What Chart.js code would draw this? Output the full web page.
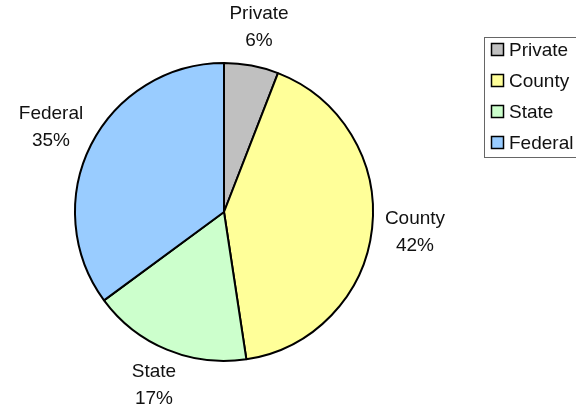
<!DOCTYPE html>
<html><head><meta charset="utf-8">
<script src="https://cdn.jsdelivr.net/npm/chart.js@4"></script>
<style>html,body{margin:0;padding:0;background:#fff}#wrap{width:576px;height:409px}</style>
</head><body><div id="wrap"><canvas id="c" width="576" height="409"></canvas></div>
<script>
const categories = ["Private", "County", "State", "Federal"];
const values = [5.9, 41.7, 17.3, 35.1];
const colors = ["#C0C0C0", "#FFFF99", "#CCFFCC", "#99CCFF"];
const FONT = '19px "Liberation Sans", Arial, sans-serif';

const labelPlugin = {
  id: 'outLabels',
  afterDatasetsDraw(chart) {
    const ctx = chart.ctx;
    const meta = chart.getDatasetMeta(0);
    const data = chart.data.datasets[0].data;
    const total = data.reduce((a, b) => a + b, 0);
    ctx.save();
    ctx.font = FONT;
    ctx.fillStyle = '#111';
    ctx.textAlign = 'center';
    ctx.textBaseline = 'middle';
    meta.data.forEach((arc, i) => {
      const p = arc.getProps(['x', 'y', 'startAngle', 'endAngle', 'outerRadius'], true);
      const mid = (p.startAngle + p.endAngle) / 2;
      const name = chart.data.labels[i];
      const pct = Math.round(data[i] / total * 100) + '%';
      const hw = Math.max(ctx.measureText(name).width, ctx.measureText(pct).width) / 2;
      const hh = 26;
      const d = p.outerRadius + 13;
      const cx = p.x + Math.cos(mid) * (d + hw);
      const cy = p.y + Math.sin(mid) * d + Math.sin(mid) * hh;
      ctx.fillText(name, Math.round(p.x + Math.cos(mid) * d + Math.cos(mid) * hw), cy - 13.5);
      ctx.fillText(pct, Math.round(p.x + Math.cos(mid) * d + Math.cos(mid) * hw), cy + 13.5);
    });
    // legend
    const lx = 484.5, ly = 37.5, lw = 110, lh = 120;
    ctx.strokeStyle = '#666';
    ctx.lineWidth = 1;
    ctx.strokeRect(lx, ly, lw, lh);
    ctx.textAlign = 'left';
    chart.data.labels.forEach((lab, i) => {
      const yc = 50 + i * 31;
      ctx.fillStyle = chart.data.datasets[0].backgroundColor[i];
      ctx.fillRect(491.5, yc - 6.5, 12, 12);
      ctx.strokeStyle = '#000';
      ctx.lineWidth = 1.5;
      ctx.strokeRect(491.5, yc - 6.5, 12, 12);
      ctx.fillStyle = '#111';
      ctx.fillText(lab, 509, yc + 1);
    });
    ctx.restore();
  }
};

new Chart(document.getElementById('c'), {
  type: 'pie',
  data: {
    labels: categories,
    datasets: [{
      data: values,
      backgroundColor: colors,
      borderColor: '#000',
      borderWidth: 2
    }]
  },
  options: {
    responsive: false,
    animation: false,
    layout: { padding: { top: 62, bottom: 47, left: 74, right: 202 } },
    plugins: { legend: { display: false }, tooltip: { enabled: false } }
  },
  plugins: [labelPlugin]
});
</script>
</body></html>
